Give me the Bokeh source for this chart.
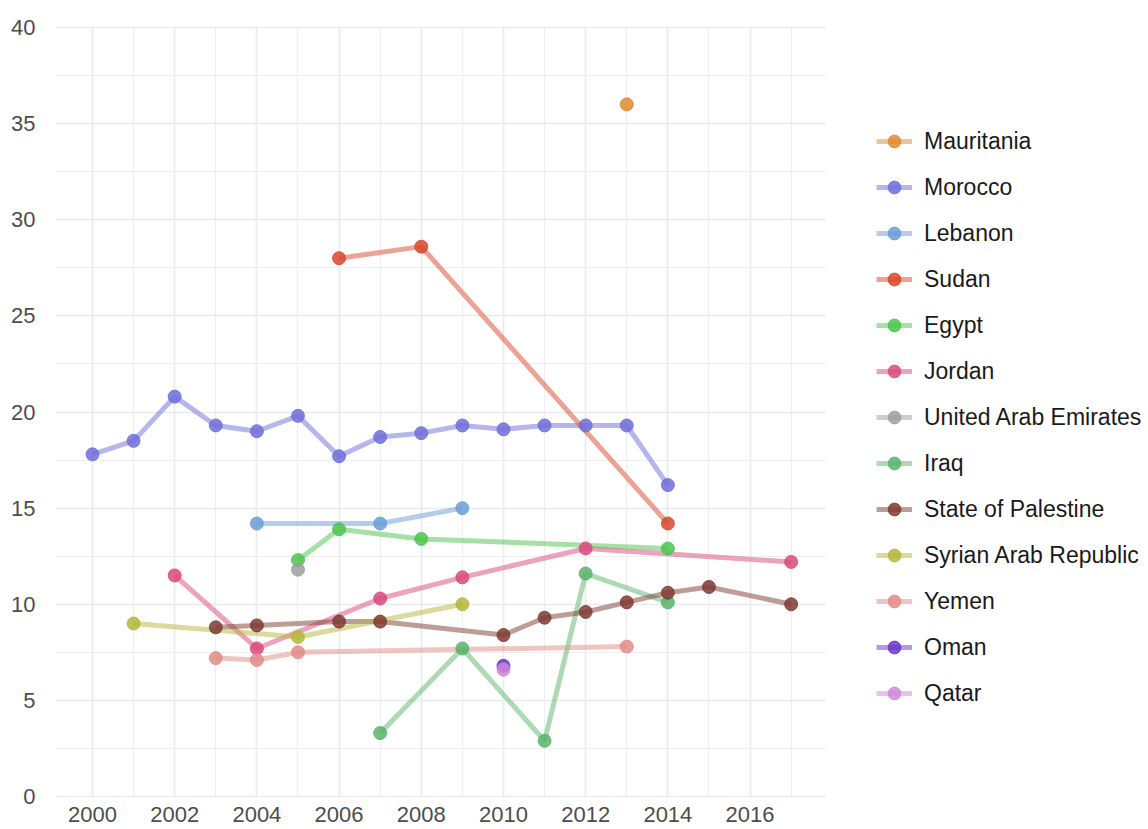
from bokeh.plotting import figure
from bokeh.models import Range1d, SingleIntervalTicker, Legend, LegendItem
from bokeh.layouts import row
from bokeh.embed import file_html
from bokeh.resources import INLINE

countries = ["Mauritania", "Morocco", "Lebanon", "Sudan", "Egypt", "Jordan",
             "United Arab Emirates", "Iraq", "State of Palestine",
             "Syrian Arab Republic", "Yemen", "Oman", "Qatar"]

colors = ["#E08A2E", "#6E6EDB", "#6A9ED6", "#D9472B", "#4CC44C", "#D94A7C",
          "#9E9E9E", "#5BB36B", "#7F3B30", "#B5B63A", "#E08C86", "#6A35C9", "#CC88D6"]

mauritania_years = [2013]
mauritania_values = [36.0]
morocco_years = [2000, 2001, 2002, 2003, 2004, 2005, 2006, 2007, 2008, 2009, 2010, 2011, 2012, 2013, 2014]
morocco_values = [17.8, 18.5, 20.8, 19.3, 19.0, 19.8, 17.7, 18.7, 18.9, 19.3, 19.1, 19.3, 19.3, 19.3, 16.2]
lebanon_years = [2004, 2007, 2009]
lebanon_values = [14.2, 14.2, 15.0]
sudan_years = [2006, 2008, 2014]
sudan_values = [28.0, 28.6, 14.2]
egypt_years = [2005, 2006, 2008, 2014]
egypt_values = [12.3, 13.9, 13.4, 12.9]
jordan_years = [2002, 2004, 2007, 2009, 2012, 2017]
jordan_values = [11.5, 7.7, 10.3, 11.4, 12.9, 12.2]
uae_years = [2005]
uae_values = [11.8]
iraq_years = [2007, 2009, 2011, 2012, 2014]
iraq_values = [3.3, 7.7, 2.9, 11.6, 10.1]
palestine_years = [2003, 2004, 2006, 2007, 2010, 2011, 2012, 2013, 2014, 2015, 2017]
palestine_values = [8.8, 8.9, 9.1, 9.1, 8.4, 9.3, 9.6, 10.1, 10.6, 10.9, 10.0]
syria_years = [2001, 2005, 2009]
syria_values = [9.0, 8.3, 10.0]
yemen_years = [2003, 2004, 2005, 2013]
yemen_values = [7.2, 7.1, 7.5, 7.8]
oman_years = [2010]
oman_values = [6.8]
qatar_years = [2010]
qatar_values = [6.6]

series = [
    (mauritania_years, mauritania_values),
    (morocco_years, morocco_values),
    (lebanon_years, lebanon_values),
    (sudan_years, sudan_values),
    (egypt_years, egypt_values),
    (jordan_years, jordan_values),
    (uae_years, uae_values),
    (iraq_years, iraq_values),
    (palestine_years, palestine_values),
    (syria_years, syria_values),
    (yemen_years, yemen_values),
    (oman_years, oman_values),
    (qatar_years, qatar_values),
]

FONT = "Liberation Sans"
LINE_W = 5
LINE_A = 0.5
PT_SIZE = 13
PT_A = 0.85

# ---------------- main chart ----------------
p = figure(width=826, height=829,
           x_range=Range1d(1999.1, 2017.86), y_range=Range1d(-0.05, 40.05),
           output_backend="svg", toolbar_location=None,
           min_border_left=55, min_border_top=26, min_border_bottom=32, min_border_right=0,
           background_fill_color="white", border_fill_color="white")
p.outline_line_color = None

p.xaxis.ticker = SingleIntervalTicker(interval=2, num_minor_ticks=2)
p.yaxis.ticker = SingleIntervalTicker(interval=5, num_minor_ticks=2)

for ax in (p.xaxis, p.yaxis):
    ax.axis_line_color = None
    ax.major_tick_line_color = None
    ax.minor_tick_line_color = None
    ax.major_tick_out = 0
    ax.minor_tick_out = 0
    ax.major_label_text_font = FONT
    ax.major_label_text_font_size = "22px"
    ax.major_label_text_color = "#4D4D4D"
p.xaxis.major_label_standoff = 9
p.yaxis.major_label_standoff = 20

for g in (p.xgrid, p.ygrid):
    g.grid_line_color = "#EBEBEB"
    g.grid_line_width = 1.6
    g.minor_grid_line_color = "#EFEFEF"
    g.minor_grid_line_width = 1.2

for (yrs, vals), c in zip(series, colors):
    p.line(yrs, vals, line_color=c, line_width=LINE_W, line_alpha=LINE_A)

for (yrs, vals), c in zip(series, colors):
    p.scatter(yrs, vals, size=PT_SIZE, fill_color=c, line_color=c,
              fill_alpha=PT_A, line_alpha=PT_A)

# ---------------- legend panel ----------------
# same series drawn outside this panel's view, used only as legend keys
q = figure(width=322, height=829, x_range=Range1d(0, 1), y_range=Range1d(0, 1),
           x_axis_type=None, y_axis_type=None,
           output_backend="svg", toolbar_location=None,
           min_border=0, background_fill_color="white", border_fill_color="white")
q.outline_line_color = None
q.xgrid.visible = False
q.ygrid.visible = False

items = []
for name, (yrs, vals), c in zip(countries, series, colors):
    lr = q.line(yrs, vals, line_color=c, line_width=LINE_W, line_alpha=LINE_A)
    pr = q.scatter(yrs, vals, size=PT_SIZE, fill_color=c, line_color=c,
                   fill_alpha=PT_A, line_alpha=PT_A)
    items.append(LegendItem(label=name, renderers=[lr, pr]))

legend = Legend(items=items, location=(50, 88), margin=0, padding=0,
                glyph_width=36, glyph_height=32, label_height=32, spacing=14,
                label_standoff=12, label_text_font=FONT, label_text_font_size="23px",
                label_text_color="#1A1A1A", border_line_alpha=0,
                background_fill_alpha=0)
q.add_layout(legend, "center")

layout = row(p, q)
open("out.html", "w").write(file_html(layout, INLINE))
